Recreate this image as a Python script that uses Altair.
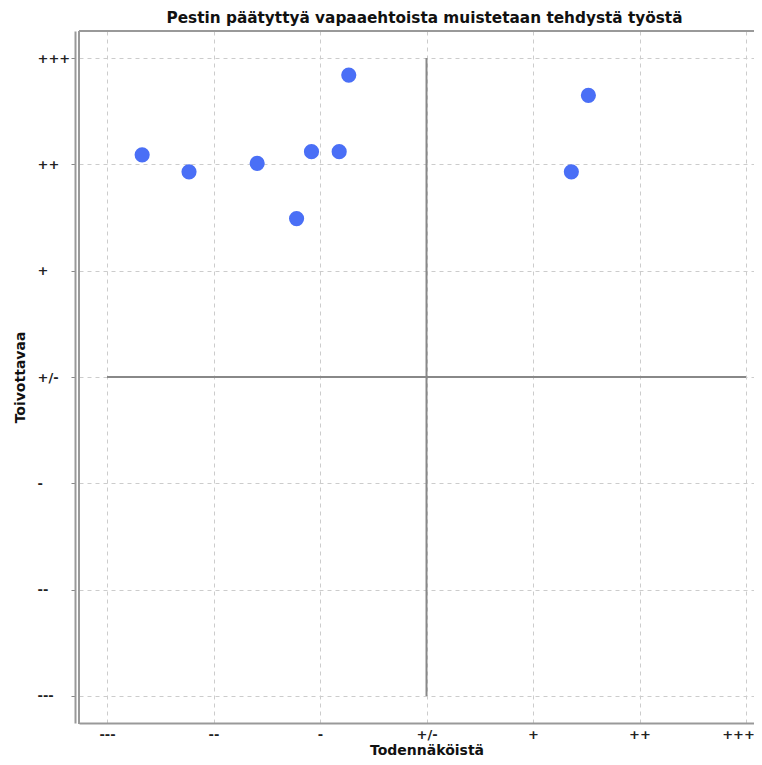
import altair as alt
import pandas as pd

# Data
x_vals = [-2.67, -2.23, -1.59, -1.22, -1.08, -0.82, -0.73, 1.36, 1.52]
y_vals = [2.09, 1.93, 2.01, 1.49, 2.12, 2.12, 2.84, 1.93, 2.65]
tick_values = [-3, -2, -1, 0, 1, 2, 3]
tick_labels = ["---", "--", "-", "+/-", "+", "++", "+++"]

title_text = "Pestin päätyttyä vapaaehtoista muistetaan tehdystä työstä"
x_title = "Todennäköistä"
y_title = "Toivottavaa"

W, H = 675, 692
X_DOMAIN = [-3.263, 3.075]
Y_DOMAIN = [-3.255, 3.255]
FONT = "DejaVu Sans"

points = pd.DataFrame({"x": x_vals, "y": y_vals})
cross = pd.DataFrame({
    "x": [tick_values[0], 0],
    "x2": [tick_values[-1], 0],
    "y": [0, tick_values[0]],
    "y2": [0, tick_values[-1]],
})

label_expr = "[" + ",".join("'" + t + "'" for t in tick_labels) + "][datum.value + 3]"

xscale = alt.Scale(domain=X_DOMAIN, nice=False, zero=False)
yscale = alt.Scale(domain=Y_DOMAIN, nice=False, zero=False)

x_axis = alt.Axis(
    values=tick_values, labelExpr=label_expr, title=x_title,
    grid=True, gridDash=[4, 4], gridColor="#cccccc", gridWidth=1,
    domain=True, domainColor="#999999", domainWidth=2,
    ticks=False, labelPadding=5, labelFont=FONT, labelFontSize=13,
    labelFontWeight="bold", labelColor="#222222",
    labelOffset={"expr": "datum.value == 3 ? -8 : 0"},
    titleFont=FONT, titleFontSize=14, titleFontWeight="bold", titleColor="#111111",
    titleX=426.5 - 79, titleY=27, titleBaseline="middle", titleAlign="center",
)
y_axis = alt.Axis(
    values=tick_values, labelExpr=label_expr, title=y_title,
    grid=True, gridDash=[4, 4], gridColor="#cccccc", gridWidth=1,
    domain=True, domainColor="#999999", domainWidth=2, offset=4,
    ticks=True, tickSize=4, tickColor="#888888",
    labelAlign="left", labelPadding=34, labelBaseline="middle",
    labelFont=FONT, labelFontSize=13, labelFontWeight="bold", labelColor="#222222",
    titleFont=FONT, titleFontSize=14, titleFontWeight="bold", titleColor="#111111",
    titleX=-55, titleY=H / 2, titleAngle=270, titleAlign="center", titleBaseline="middle",
)

cross_layer = alt.Chart(cross).mark_rule(color="#888888", strokeWidth=2).encode(
    x=alt.X("x:Q", scale=xscale, axis=x_axis),
    x2="x2:Q",
    y=alt.Y("y:Q", scale=yscale, axis=y_axis),
    y2="y2:Q",
)

border_left = alt.Chart(cross).mark_rule(color="#999999", strokeWidth=2).encode(
    x=alt.value(0), y=alt.value(0), y2=alt.value(H + 1)
)
border_top = alt.Chart(cross).mark_rule(color="#999999", strokeWidth=2).encode(
    x=alt.value(0), x2=alt.value(W + 5), y=alt.value(0)
)

pts = alt.Chart(points).mark_circle(size=230, color="#4a6ff6", opacity=1).encode(
    x=alt.X("x:Q", scale=xscale),
    y=alt.Y("y:Q", scale=yscale),
)

chart = alt.layer(cross_layer, border_left, border_top, pts).properties(
    width=W, height=H,
    autosize=alt.AutoSizeParams(type="none"),
    padding={"left": 71, "top": 23, "right": 0, "bottom": 34},
    title=alt.TitleParams(
        text=title_text, font=FONT, fontSize=15.3, fontWeight="bold", color="#111111",
        anchor="middle", dx=8, offset=4,
    ),
).configure_view(stroke=None).configure(background="white")

chart.save("out.html", embed_options={"renderer": "svg", "actions": False})
